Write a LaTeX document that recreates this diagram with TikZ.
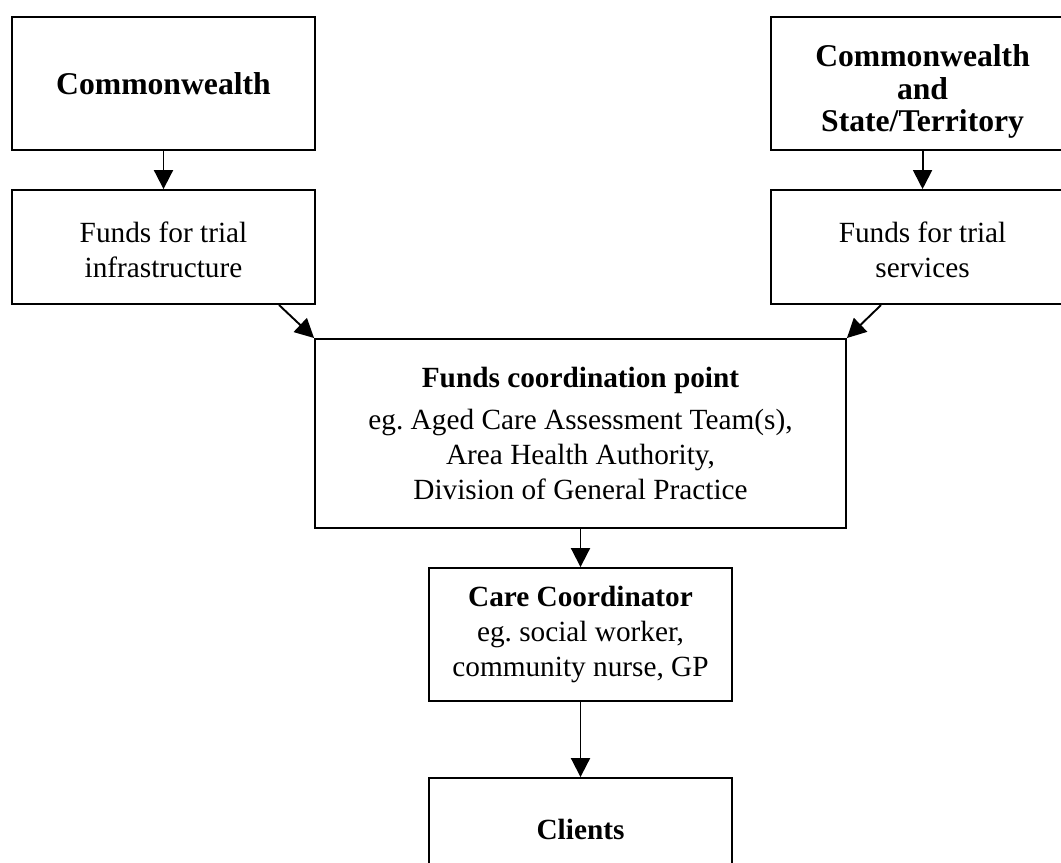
\documentclass[tikz,border=0pt]{standalone}
\usepackage{fontspec}
\setmainfont{Liberation Serif}
\usepackage{tikz}
\usetikzlibrary{arrows.meta, positioning}
\tikzstyle{tallbox}  = [rectangle, minimum width=127.3pt, minimum height=55.9pt,
                        text centered, align=center, draw=black, line width=0.8pt,
                        font=\fontsize{12.3}{14.6}\selectfont]
\tikzstyle{fundbox}  = [rectangle, minimum width=127.3pt, minimum height=47.9pt,
                        text centered, align=center, draw=black, line width=0.8pt,
                        font=\fontsize{12.3}{14.6}\selectfont]
\tikzstyle{coordbox} = [rectangle, minimum width=223pt, minimum height=79.4pt,
                        text centered, align=center, draw=black, line width=0.8pt,
                        font=\fontsize{12.3}{14.6}\selectfont]
\tikzstyle{arrow}    = [line width=0.8pt,-{Triangle[length=8pt,width=8pt]}]

\begin{document}
\begin{tikzpicture}[x=0.42pt,y=-0.42pt]
  \useasboundingbox (0,0) rectangle (1061,863);
  \node (comm)     [tallbox, font=\fontsize{13.3}{13.7}\selectfont] at (163.5,83.5) {\textbf{Commonwealth}};
  \node (infra)    [fundbox, below=16pt of comm] {\rule{0pt}{11pt}Funds for trial\\infrastructure};
  \node (cst)      [tallbox, font=\fontsize{13.3}{13.7}\selectfont, right=190.7pt of comm]
        {\rule{0pt}{16pt}\textbf{Commonwealth}\\\textbf{and}\\\textbf{State/Territory}};
  \node (services) [fundbox, below=16pt of cst] {\rule{0pt}{11pt}Funds for trial\\services};
  \node (coord)    [coordbox] at (580.5,433.5)
        {\textbf{Funds coordination point}\\[3pt]eg.\ Aged Care Assessment Team(s),\\Area Health Authority,\\Division of General Practice};
  \node (carec)    [tallbox, below=16pt of coord] {\textbf{Care Coordinator}\\eg.\ social worker,\\community nurse, GP};
  \node (clients)  [tallbox, minimum height=42.8pt, below=31.5pt of carec] {\textbf{Clients}};

  \draw[arrow] (comm)  -- (infra);
  \draw[arrow] (cst)   -- (services);
  \draw[arrow] ([xshift=-15.5pt]infra.south east) -- (coord.north west);
  \draw[arrow] ([xshift=46.6pt]services.south west) -- (coord.north east);
  \draw[arrow] (coord) -- (carec);
  \draw[arrow] (carec) -- (clients);
\end{tikzpicture}
\end{document}
